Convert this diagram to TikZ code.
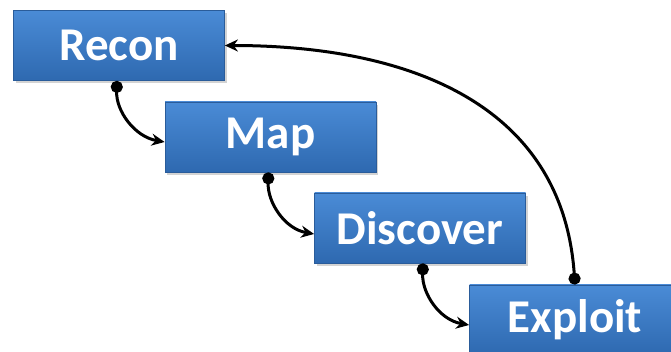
\documentclass[tikz,border=0pt]{standalone}
\usepackage{fontspec}
\setmainfont{Carlito}
\usetikzlibrary{arrows.meta,shadows}
\definecolor{boxtop}{HTML}{4A8BD6}
\definecolor{boxbot}{HTML}{2E69B0}
\definecolor{boxedge}{HTML}{2A5C9A}

\begin{document}
\begin{tikzpicture}[x=1pt,y=-1pt,
    phase/.style={draw=boxedge,line width=0.8pt,top color=boxtop,bottom color=boxbot,
      minimum width=211pt,minimum height=70pt,inner sep=0pt,text=white,
      font=\fontsize{47}{50}\selectfont\bfseries,
      drop shadow={shadow xshift=2pt,shadow yshift=-3pt,opacity=.35}},
    link/.style={{Circle[length=12pt]}-{Stealth[length=13pt,width=12pt]},line width=3pt}]
                \useasboundingbox (0,0) rectangle (671,352);
                \clip (0,0) rectangle (671,352);

                % Phase boxes
                \node[phase] (recon) at (119,45.5) {Recon};
                \node[phase] (map) at (270.5,137) {Map};
                \node[phase] (discover) at (420,228) {Discover};
                \node[phase] (exploit) at (575,320) {Exploit};

                % Step arcs
                \draw[link] ([xshift=-2pt]recon.south) to[out=-92,in=170] ([yshift=-5pt]map.west);
                \draw[link] ([xshift=-2pt]map.south) to[out=-92,in=170] ([yshift=-6pt]discover.west);
                \draw[link] ([xshift=3pt]discover.south) to[out=-92,in=170] ([yshift=-5pt]exploit.west);

                % Back arc
                \draw[link] (exploit.north) to[out=94,in=0,looseness=1.1] (recon.east);

            \end{tikzpicture}
\end{document}
